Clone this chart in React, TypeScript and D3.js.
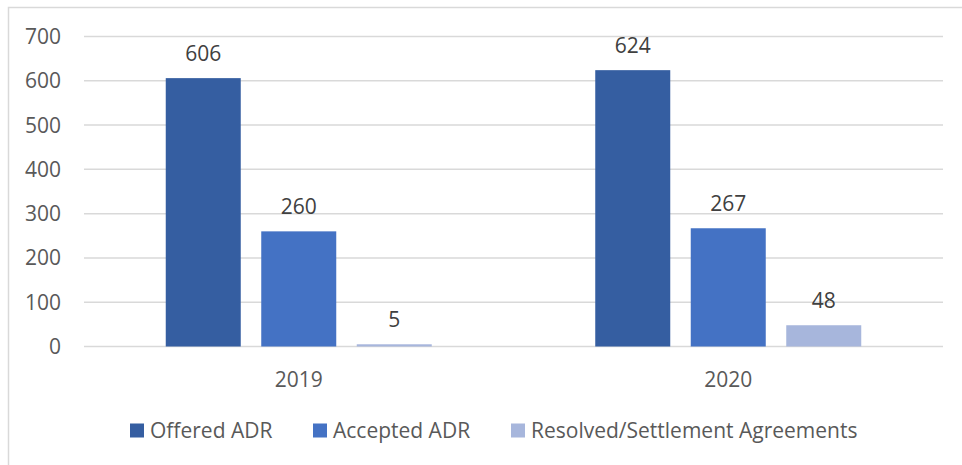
import React, { useEffect, useRef } from "react";
import * as d3 from "d3";

const years = ["2019", "2020"];
const seriesNames = ["Offered ADR", "Accepted ADR", "Resolved/Settlement Agreements"];
const offered = [606, 624];
const accepted = [260, 267];
const resolved = [5, 48];
const yTicks = [0, 100, 200, 300, 400, 500, 600, 700];

const colors = ["#355EA1", "#4472C4", "#A7B6DC"];
const W = 962;
const H = 465;
const FONT = "'Open Sans', 'Noto Sans', sans-serif";
const FS = 21;

export default function App() {
  const ref = useRef<SVGSVGElement>(null);

  useEffect(() => {
    const svg = d3.select(ref.current);
    svg.selectAll("*").remove();

    const margin = { left: 84, right: 19, top: 36.5, plotBottom: 346.5 };
    const series = [offered, accepted, resolved];

    // chart frame (runs off the right/bottom edges)
    svg.append("rect")
      .attr("x", 8.5).attr("y", 7.5)
      .attr("width", W + 20).attr("height", H + 20)
      .attr("fill", "#fff").attr("stroke", "#D9D9D9").attr("stroke-width", 1.5);

    const x0 = d3.scaleBand<string>().domain(years).range([margin.left, W - margin.right]);
    const y = d3.scaleLinear().domain([0, 700]).range([margin.plotBottom, margin.top]);

    const barW = 75;
    const gap = 20.5;
    const groupW = barW * 3 + gap * 2;
    const x1 = d3.scaleBand<number>().domain([0, 1, 2])
      .range([0, groupW]).paddingInner(gap / (barW + gap)).paddingOuter(0);

    // gridlines
    svg.append("g").selectAll("line").data(yTicks).join("line")
      .attr("x1", margin.left).attr("x2", W - margin.right)
      .attr("y1", (d) => y(d)).attr("y2", (d) => y(d))
      .attr("stroke", "#D9D9D9").attr("stroke-width", 1.5);

    // y tick labels
    svg.append("g").selectAll("text").data(yTicks).join("text")
      .attr("x", 61).attr("y", (d) => y(d))
      .attr("dy", "0.36em").attr("text-anchor", "end")
      .attr("font-family", FONT).attr("font-size", FS).attr("fill", "#595959")
      .text((d) => d);

    // bars
    years.forEach((yr, i) => {
      const gx = (x0(yr) as number) + (x0.bandwidth() - groupW) / 2;
      const g = svg.append("g").attr("transform", `translate(${gx},0)`);
      series.forEach((s, k) => {
        g.append("rect")
          .attr("x", x1(k) as number).attr("width", x1.bandwidth())
          .attr("y", y(s[i])).attr("height", y(0) - y(s[i]))
          .attr("fill", colors[k]);
        g.append("text")
          .attr("x", (x1(k) as number) + x1.bandwidth() / 2)
          .attr("y", y(s[i]) - 17)
          .attr("text-anchor", "middle")
          .attr("font-family", FONT).attr("font-size", FS).attr("fill", "#404040")
          .text(s[i]);
      });
      svg.append("text")
        .attr("x", (x0(yr) as number) + x0.bandwidth() / 2).attr("y", 386.5)
        .attr("text-anchor", "middle")
        .attr("font-family", FONT).attr("font-size", FS).attr("fill", "#595959")
        .text(yr);
    });

    // legend
    const leg = svg.append("g");
    const starts = [130, 313, 511];
    seriesNames.forEach((name, k) => {
      leg.append("rect")
        .attr("x", starts[k]).attr("y", 423.5).attr("width", 14).attr("height", 14)
        .attr("fill", colors[k]);
      leg.append("text")
        .attr("x", starts[k] + 20).attr("y", 437.5)
        .attr("font-family", FONT).attr("font-size", FS).attr("fill", "#595959")
        .text(name);
    });
  }, []);

  return (
    <svg ref={ref} width={W} height={H}
      style={{ position: "absolute", left: 0, top: 0, background: "#fff" }} />
  );
}
